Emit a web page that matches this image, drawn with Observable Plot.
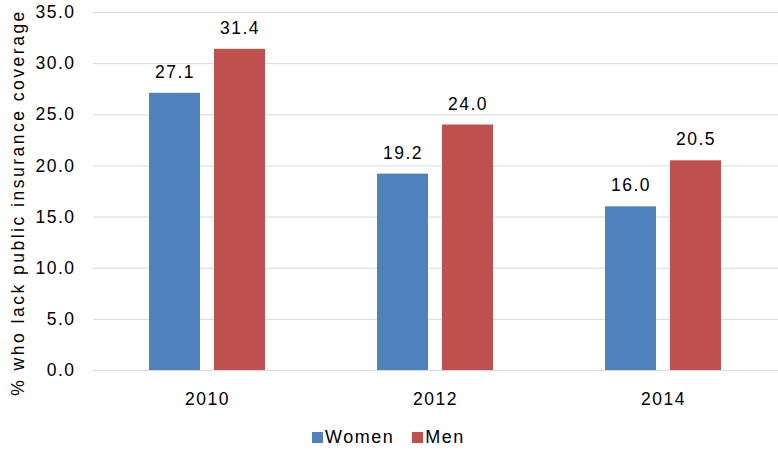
<!DOCTYPE html>
<html>
<head>
<meta charset="utf-8">
<script src="https://cdn.jsdelivr.net/npm/d3@7"></script>
<script src="https://cdn.jsdelivr.net/npm/@observablehq/plot@0.6"></script>
<style>
  html, body { margin: 0; padding: 0; background: #fff; }
  body { width: 778px; height: 454px; overflow: hidden; font-family: "Liberation Sans", Arial, sans-serif; }
  #legend { position: absolute; left: 312px; top: 427px; display: flex; align-items: center; font-size: 18px; letter-spacing: 1.5px; color: #000; }
  #legend span.sw { display: inline-block; width: 11px; height: 11px; margin-right: 2px; }
  #legend .item { display: flex; align-items: center; margin-right: 18px; }
  svg text { letter-spacing: 1.5px; }
  svg text.ylab { letter-spacing: 2.5px; }
</style>
</head>
<body>
<div id="chart"></div>
<div id="legend"></div>
<script>
const years = ["2010", "2012", "2014"];
const women = [27.1, 19.2, 16.0];
const men = [31.4, 24.0, 20.5];
const seriesNames = ["Women", "Men"];
const seriesColors = ["#4F81BD", "#C0504D"];
const yTicks = [0, 5, 10, 15, 20, 25, 30, 35];
const yLabel = "% who lack public insurance coverage";

const wData = years.map((y, i) => ({year: y, series: "Women", value: women[i]}));
const mData = years.map((y, i) => ({year: y, series: "Men", value: men[i]}));

const bandInset = 65;

const chart = Plot.plot({
  width: 778,
  height: 410,
  marginLeft: 93,
  marginRight: 0,
  marginTop: 12,
  marginBottom: 40,
  style: { fontFamily: "'Liberation Sans', Arial, sans-serif", fontSize: "17.5px", color: "#000", background: "#fff" },
  x: { domain: years, paddingInner: 0.49, paddingOuter: 0.245, label: null, tickSize: 0, tickPadding: 22 },
  y: { domain: [0, 35], ticks: yTicks, tickFormat: d3.format(".1f"), label: null, tickSize: 0, tickPadding: 18 },
  marks: [
    Plot.ruleY(yTicks, { stroke: "#d9d9d9", strokeWidth: 1 }),
    Plot.barY(wData, { x: "year", y: "value", fill: seriesColors[0], insetRight: bandInset }),
    Plot.barY(mData, { x: "year", y: "value", fill: seriesColors[1], insetLeft: bandInset }),
    Plot.text(wData, { x: "year", y: "value", text: d => d.value.toFixed(1), dx: -32.5, dy: -21, fontSize: 17.5, fill: "#000" }),
    Plot.text(mData, { x: "year", y: "value", text: d => d.value.toFixed(1), dx: 32.5, dy: -21, fontSize: 17.5, fill: "#000" }),
    Plot.text([yLabel], { frameAnchor: "left", textAnchor: "middle", rotate: -90, dx: -75, dy: 11, fontSize: 17.5, fill: "#000", text: d => d })
  ]
});
document.getElementById("chart").appendChild(chart);
chart.querySelectorAll("text").forEach(t => { if (t.textContent === yLabel) t.classList.add("ylab"); });

const legend = document.getElementById("legend");
seriesNames.forEach((n, i) => {
  const item = document.createElement("div");
  item.className = "item";
  const sw = document.createElement("span");
  sw.className = "sw";
  sw.style.background = seriesColors[i];
  item.appendChild(sw);
  item.appendChild(document.createTextNode(n));
  legend.appendChild(item);
});
</script>
</body>
</html>
